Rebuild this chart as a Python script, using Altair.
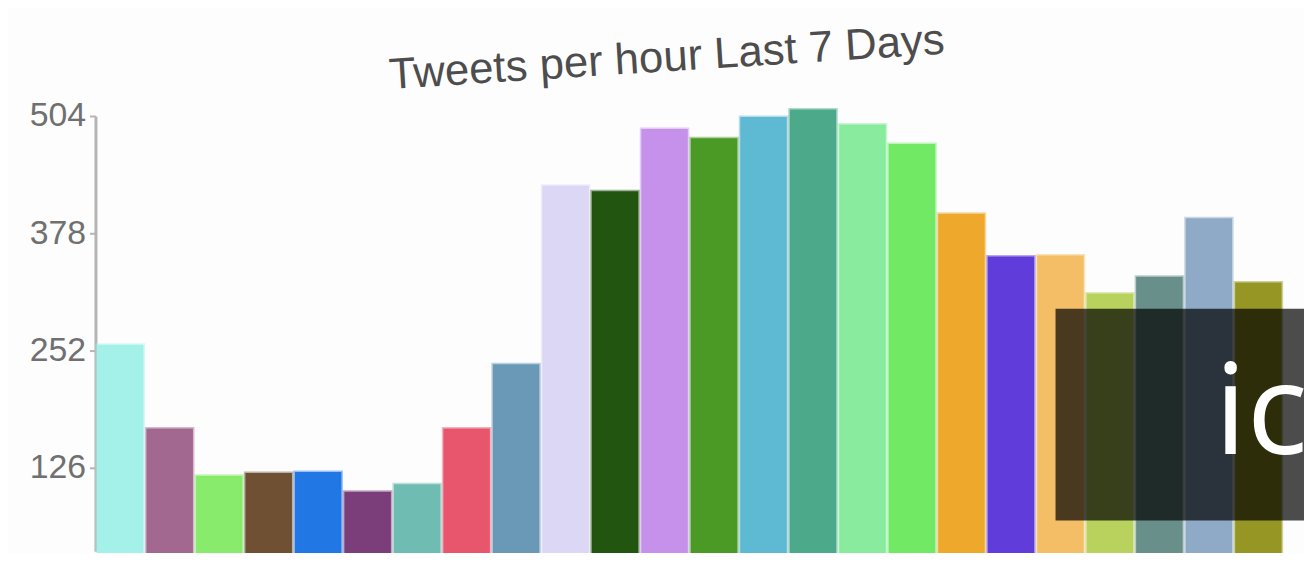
import altair as alt
import pandas as pd

hours = ["00", "01", "02", "03", "04", "05", "06", "07", "08", "09", "10", "11",
         "12", "13", "14", "15", "16", "17", "18", "19", "20", "21", "22", "23"]
tweets = [258, 168, 117, 120, 121, 100, 108, 168, 237, 429, 423, 490,
          480, 503, 511, 495, 474, 399, 353, 354, 313, 331, 394, 325]
colors = ["#a3f1e8", "#a36890", "#88eb6c", "#6f5033", "#2177e4", "#7b3e7b",
          "#6fbcb2", "#e8566d", "#6a99b8", "#dcd7f4", "#22550f", "#c691ea",
          "#4a9a25", "#5eb9d2", "#4caa8b", "#88eb9e", "#71e964", "#eea92d",
          "#603dda", "#f3be65", "#b8d25d", "#688f8a", "#8eaac6", "#969624"]
tick_values = [126, 252, 378, 504]
title_text = "Tweets per hour Last 7 Days"
overlay_text = "ic"

df = pd.DataFrame({"hour": hours, "tweets": tweets})
color_scale = alt.Scale(domain=hours, range=colors)

bars = alt.Chart(df).mark_bar(strokeWidth=3, strokeOpacity=0.45).encode(
    x=alt.X("hour:N", sort=hours,
            scale=alt.Scale(paddingInner=0.06, paddingOuter=0.03), axis=None),
    y=alt.Y("tweets:Q",
            scale=alt.Scale(domain=[35.8, 504], nice=False, zero=False),
            axis=alt.Axis(values=tick_values, title=None, grid=False,
                          domainColor="#b5b5b5", domainWidth=3,
                          tickColor="#b5b5b5", tickWidth=2, tickSize=6,
                          labelFontSize=34, labelColor="#707070",
                          labelFont="Liberation Sans", labelPadding=4)),
    y2=alt.datum(0),
    color=alt.Color("hour:N", scale=color_scale, legend=None),
    stroke=alt.Stroke("hour:N", scale=color_scale, legend=None),
)

title = alt.Chart(pd.DataFrame({"t": [title_text]})).mark_text(
    font="Liberation Sans", fontSize=44, color="#4d4d4d",
    align="center", baseline="middle", angle=356.35
).encode(text="t:N", x=alt.value(575), y=alt.value(-58))

overlay = alt.Chart(pd.DataFrame({"o": [1]})).mark_rect(
    color="#000000", opacity=0.7
).encode(x=alt.value(966), x2=alt.value(1216), y=alt.value(194), y2=alt.value(407))

ic = alt.Chart(pd.DataFrame({"t": [overlay_text]})).mark_text(
    font="Open Sans", fontSize=128, color="#ffffff",
    align="left", baseline="alphabetic"
).encode(text="t:N", x=alt.value(1126), y=alt.value(340))

chart = alt.layer(bars, title, overlay, ic).properties(
    width=1195, height=438,
    padding={"left": 88, "top": 107, "right": 21, "bottom": 0},
    autosize=alt.AutoSizeParams(type="none"),
    background="#fdfdfd",
).configure_view(strokeWidth=0)

chart.save("out.html", embed_options={"renderer": "svg", "actions": False})
